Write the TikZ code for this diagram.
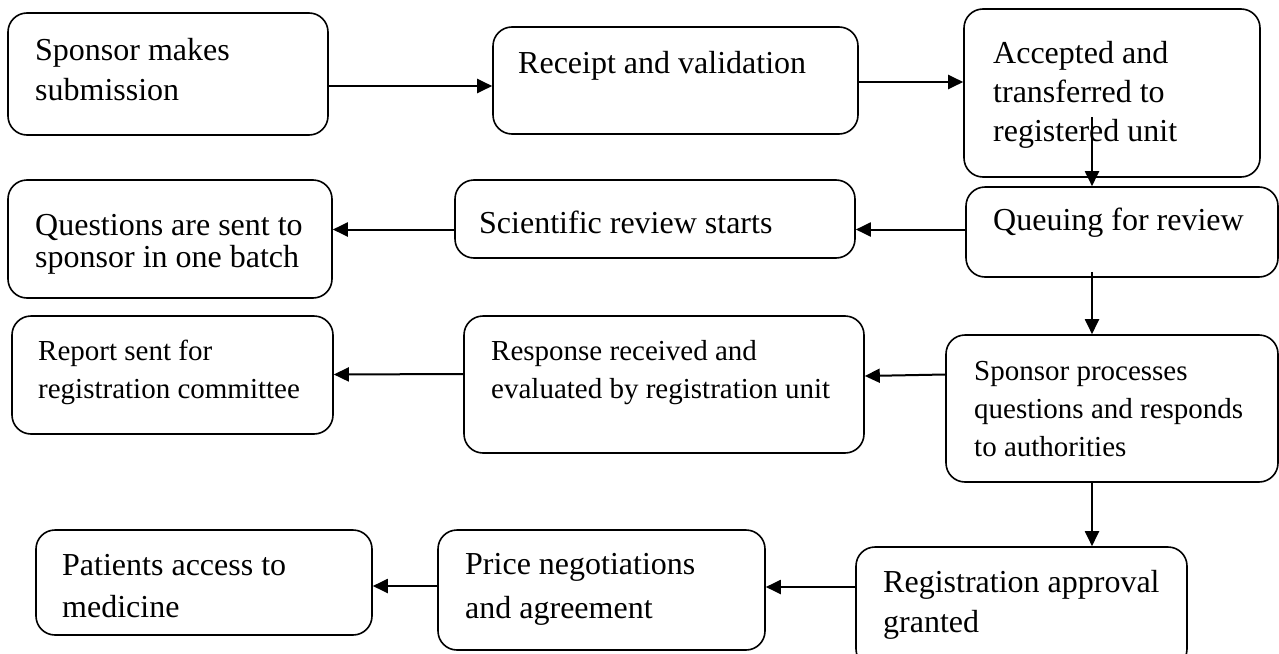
\documentclass[tikz,border=0pt]{standalone}
\usepackage{fontspec}
\setmainfont{Liberation Serif}
\usetikzlibrary{arrows.meta}

\newcommand\biglines[2]{\fontsize{32}{#1}\selectfont\begin{tabular}[t]{@{}l@{}}#2\end{tabular}}
\newcommand\smalllines[2]{\fontsize{29}{#1}\selectfont\begin{tabular}[t]{@{}l@{}}#2\end{tabular}}

\begin{document}
\begin{tikzpicture}[x=1pt,y=-1pt,
  stepbox/.style={draw, line width=1.6pt, rounded corners=19pt, inner sep=0pt},
  lbl/.style={inner sep=0pt, anchor=base west},
  arr/.style={line width=2pt, -{Triangle[length=15pt,width=14pt]}}]
\useasboundingbox (0,0) rectangle (1279,653);

% boxes
\node[stepbox, minimum width=320pt, minimum height=122pt] (b1)  at (168,74) {};
\node[stepbox, minimum width=365pt, minimum height=107pt] (b2)  at (675.5,80.5) {};
\node[stepbox, minimum width=296pt, minimum height=168pt] (b3)  at (1112,93) {};
\node[stepbox, minimum width=312pt, minimum height=90pt]  (b4)  at (1122,232) {};
\node[stepbox, minimum width=400pt, minimum height=78pt]  (b5)  at (655,219) {};
\node[stepbox, minimum width=324pt, minimum height=118pt] (b6)  at (170,239) {};
\node[stepbox, minimum width=321pt, minimum height=118pt] (b7)  at (172.5,375) {};
\node[stepbox, minimum width=400pt, minimum height=137pt] (b8)  at (664,384.5) {};
\node[stepbox, minimum width=332pt, minimum height=147pt] (b9)  at (1112,408.5) {};
\node[stepbox, minimum width=331pt, minimum height=121pt] (b10) at (1021.5,607.5) {};
\node[stepbox, minimum width=327pt, minimum height=120pt] (b11) at (601.5,590) {};
\node[stepbox, minimum width=336pt, minimum height=105pt] (b12) at (204,582.5) {};

% labels
\node[lbl] (t1)  at (35,60)   {\biglines{40}{Sponsor makes\\submission}};
\node[lbl] (t2)  at (518,73)  {\biglines{40}{Receipt and validation}};
\node[lbl] (t3)  at (993,63)  {\biglines{39}{Accepted and\\transferred to\\registered unit}};
\node[lbl] (t4)  at (993,230) {\biglines{40}{Queuing for review}};
\node[lbl] (t5)  at (479,233) {\biglines{40}{Scientific review starts}};
\node[lbl] (t6)  at (35,235)  {\biglines{32}{Questions are sent to\\sponsor in one batch}};
\node[lbl] (t7)  at (38,360)  {\smalllines{38}{Report sent for\\registration committee}};
\node[lbl] (t8)  at (491,360) {\smalllines{38}{Response received and\\evaluated by registration unit}};
\node[lbl] (t9)  at (974,380) {\smalllines{38}{Sponsor processes\\questions and responds\\to authorities}};
\node[lbl] (t10) at (883,592) {\biglines{40}{Registration approval\\granted}};
\node[lbl] (t11) at (465,574) {\biglines{44}{Price negotiations\\and agreement}};
\node[lbl] (t12) at (62,575)  {\biglines{42}{Patients access to\\medicine}};

% connectors
\draw[arr] ([yshift=-12pt]b1.east) -- ([yshift=-5.5pt]b2.west);
\draw[arr] ([yshift=-1.5pt]b2.east) -- ([yshift=11pt]b3.west);
\draw[arr] ([xshift=-20pt,yshift=-24pt]b3.center) -- ([xshift=-30pt]b4.north);
\draw[arr] ([yshift=2.5pt]b4.west) -- ([yshift=-10.5pt]b5.east);
\draw[arr] ([yshift=-10.5pt]b5.west) -- ([yshift=9.5pt]b6.east);
\draw[arr] ([xshift=-30pt,yshift=6pt]b4.south) -- ([xshift=-20pt]b9.north);
\draw[arr] ([yshift=34pt]b9.west) -- ([yshift=8.5pt]b8.east);
\draw[arr] ([yshift=10.5pt]b8.west) -- ([yshift=0.5pt]b7.east);
\draw[arr] ([xshift=-20pt]b9.south) -- ([xshift=70.5pt]b10.north);
\draw[arr] ([yshift=20.5pt]b10.west) -- ([yshift=3pt]b11.east);
\draw[arr] ([yshift=4pt]b11.west) -- ([yshift=-3.5pt]b12.east);
\end{tikzpicture}
\end{document}
